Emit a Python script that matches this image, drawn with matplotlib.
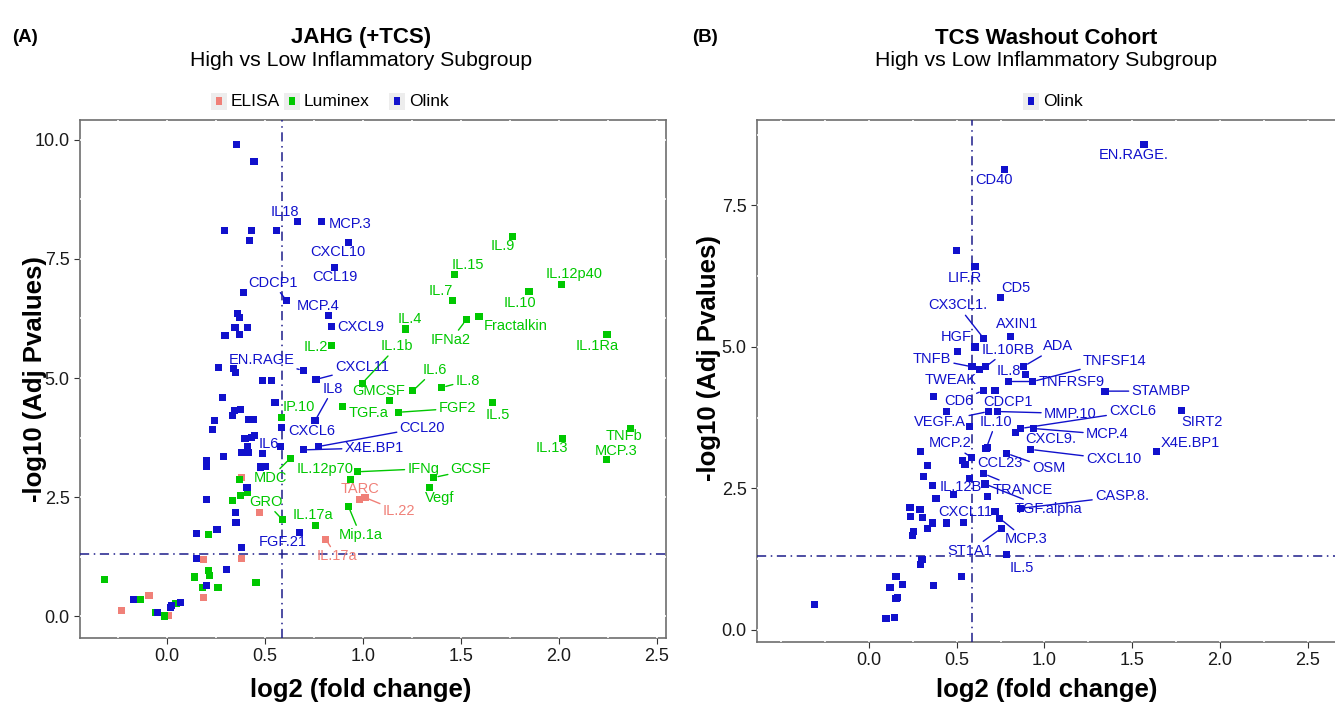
import numpy as np
import matplotlib.pyplot as plt
from matplotlib.patches import Rectangle

plt.rcParams['font.family'] = ['Liberation Sans', 'DejaVu Sans']

BLUE = '#1111CC'
GREEN = '#00C800'
SALMON = '#F08078'
REFLINE = '#1C1C8A'

FC_CUT = np.log2(1.5)
P_CUT = -np.log10(0.05)

# ---------------- panel A: JAHG (+TCS) ----------------
a_olink_names = ["IL18", "MCP.3", "CXCL10", "CCL19", "CDCP1", "MCP.4", "CXCL9", "EN.RAGE",
                 "CXCL11", "IL8", "CXCL6", "IL6", "CCL20", "X4E.BP1", "FGF.21"] + [""] * 55
a_olink_x = [0.667, 0.787, 0.925, 0.856, 0.611, 0.823, 0.837, 0.695, 0.760, 0.755, 0.582, 0.577,
             0.772, 0.695, 0.675,
             0.354, 0.444, 0.292, 0.430, 0.558, 0.422, 0.391, 0.359, 0.369, 0.347, 0.412, 0.372,
             0.296, 0.264, 0.338, 0.351, 0.485, 0.531, 0.281, 0.551, 0.342, 0.335, 0.376, 0.241,
             0.233, 0.417, 0.440, 0.398, 0.432, 0.447, 0.410, 0.379, 0.399, 0.418, 0.486, 0.201,
             0.201, 0.289, 0.476, 0.504, 0.408, 0.203, 0.348, 0.352, 0.149, 0.255, 0.379, 0.152,
             0.303, 0.201, -0.173, -0.047, 0.019, 0.023, 0.070]
a_olink_y = [8.28, 8.28, 7.85, 7.33, 6.62, 6.32, 6.08, 5.16, 4.97, 4.10, 3.96, 3.56, 3.56, 3.49, 1.76,
             9.91, 9.54, 8.10, 8.10, 8.10, 7.89, 6.80, 6.36, 6.28, 6.06, 6.06, 5.92,
             5.90, 5.22, 5.20, 5.12, 4.95, 4.95, 4.59, 4.48, 4.31, 4.21, 4.33, 4.10,
             3.92, 4.12, 4.13, 3.72, 3.75, 3.80, 3.57, 3.44, 3.44, 3.44, 3.42, 3.26,
             3.15, 3.35, 3.13, 3.15, 2.70, 2.44, 2.18, 1.97, 1.73, 1.81, 1.44, 1.21,
             0.98, 0.64, 0.34, 0.07, 0.17, 0.23, 0.29]

a_lumi_names = ["IL.2", "IP.10", "IL.1b", "GMCSF", "IL.4", "IL.15", "IL.7", "IFNa2", "Fractalkin",
                "IL.9", "IL.12p40", "IL.10", "IL.1Ra", "IL.6", "IL.8", "TGF.a", "FGF2", "IL.5",
                "IL.13", "TNFb", "MCP.3", "MDC", "IL.12p70", "IFNg", "GCSF", "Vegf", "GRO",
                "IL.17a", "Mip.1a"] + [""] * 16
a_lumi_x = [0.840, 0.582, 0.996, 1.133, 1.219, 1.468, 1.458, 1.526, 1.592, 1.762, 2.014, 1.847,
            2.245, 1.254, 1.402, 0.894, 1.180, 1.662, 2.017, 2.366, 2.241, 0.628, 0.934, 0.971,
            1.362, 1.338, 0.590, 0.759, 0.925,
            0.372, 0.412, 0.374, 0.335, 0.211, -0.320, 0.139, 0.211, 0.216, 0.454, 0.179, 0.260,
            -0.136, -0.060, -0.012, 0.046]
a_lumi_y = [5.69, 4.17, 4.89, 4.52, 6.03, 7.18, 6.62, 6.22, 6.29, 7.98, 6.97, 6.81,
            5.92, 4.73, 4.80, 4.41, 4.28, 4.48, 3.73, 3.94, 3.29, 3.31, 2.86, 3.03,
            2.91, 2.70, 2.02, 1.91, 2.31,
            2.86, 2.59, 2.54, 2.43, 1.72, 0.76, 0.82, 0.95, 0.85, 0.70, 0.59, 0.60,
            0.34, 0.08, 0.00, 0.27]

a_elisa_names = ["TARC", "IL.22", "IL.17a"] + [""] * 8
a_elisa_x = [0.980, 1.010, 0.810, 0.378, 0.474, 0.187, 0.379, 0.187, -0.092, -0.233, 0.005]
a_elisa_y = [2.44, 2.49, 1.61, 2.91, 2.17, 1.19, 1.20, 0.38, 0.43, 0.11, 0.01]

# ---------------- panel B: TCS washout cohort ----------------
b_olink_names = ["EN.RAGE.", "CD40", "LIF.R", "CD5", "CX3CL1.", "AXIN1", "HGF", "TNFB", "IL.10RB",
                 "ADA", "IL.8", "TNFSF14", "TNFRSF9", "STAMBP", "TWEAK", "CD6", "CDCP1", "VEGF.A",
                 "MMP.10", "IL.10", "CCL23", "CXCL6", "MCP.4", "CXCL9.", "CXCL10", "OSM", "MCP.2",
                 "TRANCE", "TGF.alpha", "CASP.8.", "IL.12B", "CXCL11", "MCP.3", "ST1A1", "IL.5",
                 "SIRT2", "X4E.BP1"] + [""] * 36
b_olink_x = [1.567, 0.771, 0.604, 0.752, 0.654, 0.805, 0.604, 0.587, 0.665, 0.883, 0.891, 0.933,
             0.794, 1.345, 0.628, 0.651, 0.718, 0.680, 0.731, 0.667, 0.675, 0.864, 0.936, 0.834,
             0.921, 0.785, 0.585, 0.655, 0.661, 0.866, 0.484, 0.718, 0.746, 0.756, 0.785, 1.782,
             1.639,
             0.500, 0.505, 0.366, 0.443, 0.572, 0.295, 0.534, 0.547, 0.336, 0.309, 0.572, 0.363,
             0.382, 0.674, 0.234, 0.291, 0.239, 0.304, 0.361, 0.332, 0.443, 0.541, 0.255, 0.247,
             0.302, 0.295, 0.154, 0.120, 0.190, 0.366, 0.528, 0.154, 0.161, -0.308, 0.097, 0.144]
b_olink_y = [8.58, 8.14, 6.42, 5.87, 5.15, 5.19, 5.00, 4.65, 4.65, 4.66, 4.52, 4.39,
             4.39, 4.22, 4.61, 4.23, 4.23, 3.86, 3.86, 3.20, 3.23, 3.56, 3.56, 3.49,
             3.19, 3.12, 3.05, 2.76, 2.58, 2.15, 2.40, 2.09, 1.97, 1.80, 1.33, 3.87,
             3.15,
             6.70, 4.92, 4.12, 3.86, 3.59, 3.16, 2.99, 2.92, 2.90, 2.71, 2.68, 2.56,
             2.33, 2.36, 2.17, 2.13, 2.01, 1.99, 1.89, 1.80, 1.89, 1.90, 1.74, 1.67,
             1.25, 1.16, 0.95, 0.75, 0.80, 0.78, 0.94, 0.55, 0.58, 0.45, 0.20, 0.22]

# label placement (pixel offset from the point, y downward) and whether a segment is drawn
a_olink_lab = {"IL18": (-13, -10, 0), "MCP.3": (29, 2, 0), "CXCL10": (-10, 10, 0),
               "CCL19": (0, 10, 0), "CDCP1": (-14, -18, 1), "MCP.4": (-10, -9, 0),
               "CXCL9": (30, 0, 0), "EN.RAGE": (-42, -10, 1), "CXCL11": (46, -12, 1),
               "IL8": (18, -32, 1), "CXCL6": (31, 3, 0), "IL6": (-11, -3, 0),
               "CCL20": (104, -19, 1), "X4E.BP1": (71, -2, 1), "FGF.21": (-17, 10, 0)}
a_lumi_lab = {"IL.2": (-16, 2, 0), "IP.10": (18, -11, 0), "IL.1b": (35, -37, 1),
              "GMCSF": (-10, -10, 0), "IL.4": (4, -10, 0), "IL.15": (13, -9, 0),
              "IL.7": (-12, -10, 0), "IFNa2": (-15, 20, 1), "Fractalkin": (37, 9, 0),
              "IL.9": (-10, 10, 0), "IL.12p40": (12, -10, 0), "IL.10": (-9, 11, 0),
              "IL.1Ra": (-10, 12, 0), "IL.6": (22, -21, 1), "IL.8": (26, -7, 1),
              "TGF.a": (26, 7, 0), "FGF2": (59, -4, 1), "IL.5": (5, 12, 0), "IL.13": (-10, 10, 0),
              "TNFb": (-7, 8, 0), "MCP.3": (10, -8, 0), "MDC": (-20, 20, 1),
              "IL.12p70": (-25, -11, 0), "IFNg": (66, -3, 1), "GCSF": (37, -8, 1),
              "Vegf": (10, 11, 0), "GRO": (-17, -18, 1), "IL.17a": (-3, -10, 0),
              "Mip.1a": (12, 29, 1)}
a_elisa_lab = {"TARC": (1, -11, 0), "IL.22": (34, 14, 1), "IL.17a": (11, 17, 1)}
b_olink_lab = {"EN.RAGE.": (-10, 11, 0), "CD40": (-10, 11, 0), "LIF.R": (-10, 11, 0),
               "CD5": (15, -10, 0), "CX3CL1.": (-26, -33, 1), "AXIN1": (7, -12, 0),
               "HGF": (-19, -10, 0), "TNFB": (-40, -8, 1), "IL.10RB": (22, -17, 1),
               "ADA": (34, -20, 1), "IL.8": (-17, -3, 0), "TNFSF14": (82, -21, 1),
               "TNFRSF9": (63, 0, 1), "STAMBP": (56, 0, 1), "TWEAK": (-29, 11, 0),
               "CD6": (-24, 10, 1), "CDCP1": (13, 11, 0), "VEGF.A": (-48, 10, 1),
               "MMP.10": (73, 2, 1), "IL.10": (10, -27, 1), "CCL23": (13, 16, 0),
               "CXCL6": (112, -17, 1), "MCP.4": (74, 6, 1), "CXCL9.": (35, 7, 0),
               "CXCL10": (83, 10, 1), "OSM": (42, 15, 1), "MCP.2": (-22, -14, 1),
               "TRANCE": (39, 16, 1), "TGF.alpha": (63, 25, 1), "CASP.8.": (101, -12, 1),
               "IL.12B": (7, -7, 0), "CXCL11": (-30, 0, 0), "MCP.3": (26, 21, 1),
               "ST1A1": (-32, 23, 1), "IL.5": (15, 13, 0), "SIRT2": (20, 11, 0),
               "X4E.BP1": (34, -9, 0)}


def draw_group(ax, xs, ys, names, color, labels):
    ax.scatter(xs, ys, marker='s', s=26, color=color, edgecolors='none', zorder=4)
    for x, y, n in zip(xs, ys, names):
        if not n:
            continue
        dx, dy, seg = labels[n]
        kw = {}
        if seg:
            kw['arrowprops'] = dict(arrowstyle='-', color=color, lw=1.0, shrinkA=0, shrinkB=3)
        ax.annotate(n, (x, y), xytext=(dx, -dy), textcoords='offset pixels', ha='center',
                    va='center', fontsize=10.5, color=color, zorder=5, **kw)


def style_axes(ax, xlim, ylim, yticks):
    ax.set_xlim(*xlim)
    ax.set_ylim(*ylim)
    ax.set_xticks([0.0, 0.5, 1.0, 1.5, 2.0, 2.5])
    ax.set_xticklabels(['0.0', '0.5', '1.0', '1.5', '2.0', '2.5'])
    ax.set_yticks(yticks)
    ax.set_yticklabels(['%.1f' % t for t in yticks])
    ax.tick_params(labelsize=13, length=4, color='#333333', labelcolor='#1a1a1a')
    for s in ax.spines.values():
        s.set_color('#6e6e6e')
        s.set_linewidth(1.2)
        s.set_zorder(2.4)
    # white grid lines show only as small gaps in the panel border
    for gx in np.arange(-0.5, 2.76, 0.25):
        ax.axvline(gx, color='white', lw=1.2, zorder=2.6)
    for gy in np.arange(-1.25, 11.3, 1.25):
        ax.axhline(gy, color='white', lw=1.2, zorder=2.6)
    ax.axvline(FC_CUT, color=REFLINE, lw=1.1, ls=(0, (6, 3, 1, 3)), zorder=3)
    ax.axhline(P_CUT, color=REFLINE, lw=1.1, ls=(0, (6, 3, 1, 3)), zorder=3)


W, H = 1335, 708
fig = plt.figure(figsize=(W / 100, H / 100), dpi=100)

axA = fig.add_axes([80 / W, 1 - 638 / H, 586 / W, 518 / H])
style_axes(axA, (-0.444, 2.546), (-0.462, 10.42), [0.0, 2.5, 5.0, 7.5, 10.0])
draw_group(axA, a_elisa_x, a_elisa_y, a_elisa_names, SALMON, a_elisa_lab)
draw_group(axA, a_lumi_x, a_lumi_y, a_lumi_names, GREEN, a_lumi_lab)
draw_group(axA, a_olink_x, a_olink_y, a_olink_names, BLUE, a_olink_lab)

axB = fig.add_axes([757 / W, 1 - 642 / H, 583 / W, 522 / H])
style_axes(axB, (-0.638, 2.684), (-0.212, 9.01), [0.0, 2.5, 5.0, 7.5])
draw_group(axB, b_olink_x, b_olink_y, b_olink_names, BLUE, b_olink_lab)


def ftext(px, py, s, **kw):
    fig.text(px / W, 1 - py / H, s, **kw)


for cx, lx, title, tag in [(361, 25, 'JAHG (+TCS)', '(A)'), (1046, 705, 'TCS Washout Cohort', '(B)')]:
    ftext(cx, 38, title, ha='center', va='center', fontsize=16, fontweight='bold')
    ftext(cx, 61, 'High vs Low Inflammatory Subgroup', ha='center', va='center', fontsize=15.3)
    ftext(lx, 38, tag, ha='center', va='center', fontsize=13.5, fontweight='bold')

ftext(35, 379, '-log10 (Adj Pvalues)', ha='center', va='center', rotation=90,
      fontsize=18.5, fontweight='bold')
ftext(709, 358, '-log10 (Adj Pvalues)', ha='center', va='center', rotation=90,
      fontsize=18.5, fontweight='bold')
ftext(361, 690, 'log2 (fold change)', ha='center', va='center', fontsize=18.5, fontweight='bold')
ftext(1047, 690, 'log2 (fold change)', ha='center', va='center', fontsize=18.5, fontweight='bold')

# legends
legend_items = [(219, 'ELISA', SALMON), (292, 'Luminex', GREEN), (397, 'Olink', BLUE),
                (1031, 'Olink', BLUE)]
for kx, name, col in legend_items:
    fig.add_artist(Rectangle(((kx - 8) / W, 1 - 110 / H), 16 / W, 17 / H,
                             transform=fig.transFigure, color='#ededed', lw=0))
    fig.add_artist(Rectangle(((kx - 3) / W, 1 - 105 / H), 6 / W, 8 / H,
                             transform=fig.transFigure, color=col, lw=0))
    ftext(kx + 12, 101, name, ha='left', va='center', fontsize=12.5)

fig.savefig('out.png', dpi=100)
